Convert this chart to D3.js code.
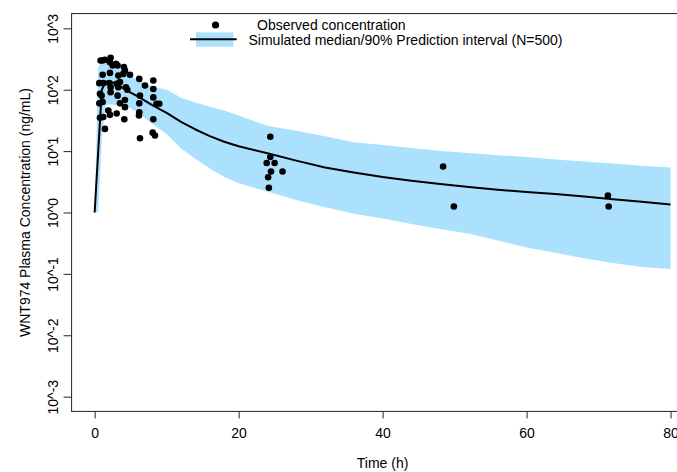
<!DOCTYPE html>
<html>
<head>
<meta charset="utf-8">
<script src="https://cdn.jsdelivr.net/npm/d3@7"></script>
<style>
  html, body { margin: 0; padding: 0; background: #fff; }
  svg { display: block; }
  text { font-family: "Liberation Sans", Arial, Helvetica, sans-serif; fill: #000; }
</style>
</head>
<body>
<svg id="chart" width="677" height="472"></svg>
<script>
// Simulation grid (hours) with median and 90% prediction interval (ng/mL)
const simTime   = [0, 0.5, 1, 1.5, 2, 3, 4, 5, 6, 8, 10, 12, 14, 16, 18, 20, 24, 28, 32, 36, 40, 44, 48, 52, 56, 60, 64, 68, 72, 76, 80];
const simMedian = [1, 10, 100, 135, 138, 125, 105, 90, 78, 56, 42, 30, 22.5, 17.5, 14.2, 12, 9.2, 7.0, 5.4, 4.5, 3.8, 3.3, 2.9, 2.6, 2.35, 2.15, 2.0, 1.82, 1.65, 1.5, 1.35];
const simUpper  = [1, 230, 300, 300, 290, 240, 200, 170, 145, 112, 100, 74, 62, 53, 46, 38, 26, 21.5, 17.5, 14, 12.6, 11.2, 10.0, 9.3, 8.6, 8.0, 7.3, 6.8, 6.3, 5.8, 5.4];
const simLower  = [1, 1, 16, 55, 58, 56, 55, 50, 42, 28, 19, 11, 7.5, 5.2, 3.8, 3.0, 2.2, 1.6, 1.22, 0.95, 0.8, 0.65, 0.54, 0.45, 0.35, 0.27, 0.22, 0.18, 0.15, 0.13, 0.12];

// Observed samples: time (h) and concentration (ng/mL)
const obsTime = [
  1.11, 0.83, 1.43, 2.22, 2.13, 2.5, 2.96, 3.19, 4.07, 4.21,
  1.11, 2.13, 3.29, 3.98, 4.91, 0.65, 1.2, 2.04, 2.22, 3.06,
  3.52, 3.29, 4.35, 4.54, 0.74, 0.97, 2.22, 3.19, 0.65, 1.11,
  3.52, 4.21, 1.9, 2.13, 3.06, 4.21, 4.12, 0.74, 1.2, 1.43,
  6.2, 6.99, 8.15, 8.15, 8.15, 6.3, 6.2, 6.2, 6.16, 8.15,
  8.6, 8.98, 8.06, 8.38, 6.3,
  24.4, 24.4, 23.9, 25.0, 24.5, 26.1, 24.1, 24.2,
  48.4, 49.9, 71.3, 71.4
];
const obsConc = [
  299, 299, 307, 331, 280, 248, 264, 248, 233, 206,
  175, 188, 170, 181, 175, 128, 128, 128, 110, 125,
  133, 110, 110, 100, 86, 80, 91, 80, 60, 63,
  60, 68, 46, 39, 41, 52, 33, 35, 36, 23,
  150, 117, 141, 103, 75, 80, 60, 43, 38, 33,
  59, 59, 20, 18, 16.2,
  17.1, 8.0, 6.4, 6.4, 4.65, 4.65, 3.76, 2.52,
  5.6, 1.25, 1.89, 1.25
];

// Axis ticks
const xTicks = [0, 20, 40, 60, 80];
const yExponents = [3, 2, 1, 0, -1, -2, -3];
const yTickLabels = ["10^3", "10^2", "10^1", "10^0", "10^-1", "10^-2", "10^-3"];

// Legend entries
const legendLabels = ["Observed concentration", "Simulated median/90% Prediction interval (N=500)"];

const bandColor = "#abe1fd";
const fontSize = 14;

const svg = d3.select("#chart");

const x = d3.scaleLinear().domain([-3.2, 83.2]).range([71.6, 693.6]);
const y = d3.scaleLog().domain([Math.pow(10, -3.24), Math.pow(10, 3.24)]).range([411.4, 13.6]);

const plotLeft = x.range()[0], plotRight = x.range()[1];
const plotTop = y.range()[1], plotBottom = y.range()[0];

svg.append("defs").append("clipPath").attr("id", "plotClip")
  .append("rect")
  .attr("x", plotLeft).attr("y", plotTop)
  .attr("width", plotRight - plotLeft).attr("height", plotBottom - plotTop);

const plot = svg.append("g").attr("clip-path", "url(#plotClip)");

const sim = simTime.map((t, i) => ({ t, med: simMedian[i], lo: simLower[i], hi: simUpper[i] }));

// 90% prediction interval
plot.append("path")
  .datum(sim)
  .attr("fill", bandColor)
  .attr("d", d3.area().x(d => x(d.t)).y0(d => y(d.lo)).y1(d => y(d.hi)));

// Simulated median
plot.append("path")
  .datum(sim)
  .attr("fill", "none")
  .attr("stroke", "#000")
  .attr("stroke-width", 2)
  .attr("stroke-linejoin", "round")
  .attr("d", d3.line().x(d => x(d.t)).y(d => y(d.med)));

// Observed points
plot.selectAll("circle.obs")
  .data(obsTime.map((t, i) => ({ t, c: obsConc[i] })))
  .join("circle")
  .attr("class", "obs")
  .attr("cx", d => x(d.t))
  .attr("cy", d => y(d.c))
  .attr("r", 3.3)
  .attr("fill", "#000");

// Plot frame
svg.append("rect")
  .attr("x", plotLeft).attr("y", plotTop)
  .attr("width", plotRight - plotLeft).attr("height", plotBottom - plotTop)
  .attr("fill", "none").attr("stroke", "#222").attr("stroke-width", 1);

// X axis
const xAxis = d3.axisBottom(x).tickValues(xTicks).tickSize(7).tickPadding(10).tickFormat(d3.format("d"));
const gx = svg.append("g").attr("transform", `translate(0,${plotBottom})`).call(xAxis);
gx.select(".domain").remove();
gx.selectAll(".tick line").attr("stroke", "#222");
gx.selectAll(".tick text").attr("font-size", fontSize).attr("font-family", "Liberation Sans, Arial, sans-serif").attr("fill", "#000");

// Y axis with rotated power-of-ten labels
const yAxis = d3.axisLeft(y)
  .tickValues(yExponents.map(e => Math.pow(10, e)))
  .tickSize(8)
  .tickFormat((d, i) => yTickLabels[i]);
const gy = svg.append("g").attr("transform", `translate(${plotLeft},0)`).call(yAxis);
gy.select(".domain").remove();
gy.selectAll(".tick line").attr("stroke", "#222");
gy.selectAll(".tick text")
  .attr("font-size", fontSize)
  .attr("font-family", "Liberation Sans, Arial, sans-serif")
  .attr("fill", "#000")
  .attr("x", null)
  .attr("text-anchor", "middle")
  .attr("transform", "translate(-13.5,0) rotate(-90)")
  .attr("dy", "0");

// Axis titles
svg.append("text")
  .attr("x", (plotLeft + plotRight) / 2)
  .attr("y", 468)
  .attr("text-anchor", "middle")
  .attr("font-size", fontSize)
  .text("Time (h)");

svg.append("text")
  .attr("transform", `translate(30,${(plotTop + plotBottom) / 2}) rotate(-90)`)
  .attr("text-anchor", "middle")
  .attr("font-size", fontSize)
  .text("WNT974 Plasma Concentration (ng/mL)");

// Legend
const lg = svg.append("g");
lg.append("circle").attr("cx", 215.5).attr("cy", 25).attr("r", 3.6).attr("fill", "#000");
lg.append("rect").attr("x", 196).attr("y", 32.3).attr("width", 37.3).attr("height", 14.4).attr("fill", bandColor);
lg.append("line").attr("x1", 190).attr("x2", 236.7).attr("y1", 39.3).attr("y2", 39.3).attr("stroke", "#000").attr("stroke-width", 2);
lg.append("text").attr("x", 257).attr("y", 29.5).attr("font-size", 14).text(legendLabels[0]);
lg.append("text").attr("x", 248.5).attr("y", 44.5).attr("font-size", 14).text(legendLabels[1]);
</script>
</body>
</html>
